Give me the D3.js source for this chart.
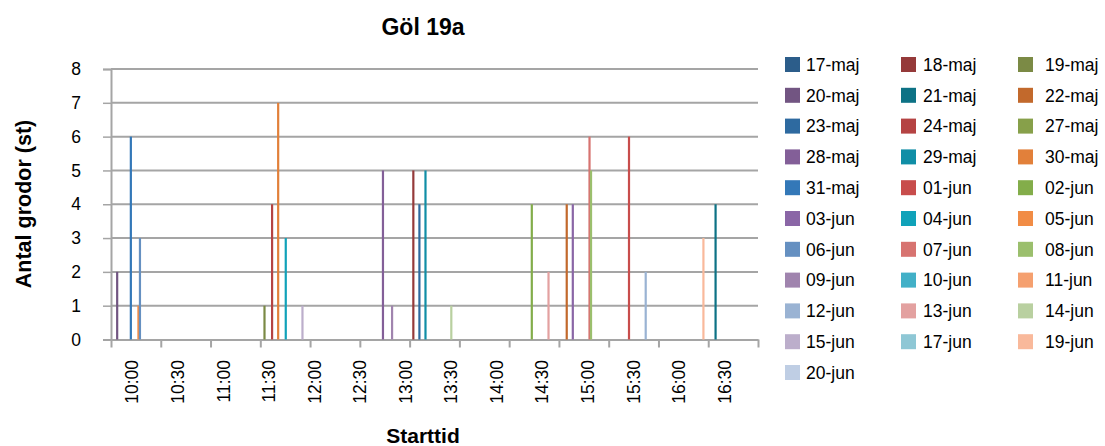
<!DOCTYPE html>
<html>
<head>
<meta charset="utf-8">
<script src="https://cdn.jsdelivr.net/npm/d3@7"></script>
<style>
  body { margin: 0; background: #fff; }
  svg { display: block; font-family: Arial, 'Liberation Sans', sans-serif; }
</style>
</head>
<body>
<div id="chart"></div>
<script>
// Series (one per survey date) and their colours
const dates = [
  '17-maj', '18-maj', '19-maj', '20-maj', '21-maj', '22-maj',
  '23-maj', '24-maj', '27-maj', '28-maj', '29-maj', '30-maj',
  '31-maj', '01-jun', '02-jun', '03-jun', '04-jun', '05-jun',
  '06-jun', '07-jun', '08-jun', '09-jun', '10-jun', '11-jun',
  '12-jun', '13-jun', '14-jun', '15-jun', '17-jun', '19-jun',
  '20-jun',
];
const colors = [
  '#2c5d8a', '#953a3a', '#7b8a45', '#725582', '#0d7285', '#c2692c',
  '#2e6aa0', '#b54343', '#87a04a', '#835f98', '#108ea6', '#e2803a',
  '#3378b8', '#c84d4c', '#83ad4a', '#8a66a6', '#10a2b9', '#f18c45',
  '#6590c1', '#d77370', '#9bbf6d', '#a084ae', '#42b0c7', '#f5a06f',
  '#9ab3d3', '#e3a1a0', '#b9d0a0', '#bcaecb', '#8ec7d5', '#f9b99b',
  '#bfcee4',
];

// Observations: date, start time, number of frogs
const barDates = [
  '20-maj', '31-maj', '05-jun', '06-jun', '19-maj', '24-maj', '30-maj',
  '04-jun', '15-jun', '28-maj', '09-jun', '18-maj', '23-maj', '29-maj',
  '14-jun', '02-jun', '13-jun', '22-maj', '03-jun', '07-jun', '08-jun',
  '01-jun', '12-jun', '19-jun', '21-maj',
];
const barTimes = [
  '09:50', '09:59', '10:04', '10:05', '11:27', '11:32', '11:36',
  '11:41', '11:52', '12:45', '12:51', '13:05', '13:09', '13:13',
  '13:30', '14:23', '14:34', '14:46', '14:50', '15:01', '15:02',
  '15:27', '15:38', '16:16', '16:24',
];
const barValues = [
  2, 6, 1, 3, 1, 4, 7,
  3, 1, 5, 1, 5, 4, 5,
  1, 4, 2, 4, 4, 6, 5,
  6, 2, 3, 4,
];

const xLabels = [
  '10:00', '10:30', '11:00', '11:30', '12:00', '12:30', '13:00',
  '13:30', '14:00', '14:30', '15:00', '15:30', '16:00', '16:30',
];

const width = 1105;
const height = 446;
const plot = { left: 111, right: 758, top: 69, bottom: 339.5 };
const gridColor = '#a5a5a5';

const toMinutes = s => {
  const [h, m] = s.split(':').map(Number);
  return h * 60 + m;
};

const svg = d3.select('#chart').append('svg')
  .attr('width', width)
  .attr('height', height);

svg.append('rect')
  .attr('width', width)
  .attr('height', height)
  .attr('fill', '#fff');

const xDomain = [586, 1012];
const x = d3.scaleLinear()
  .domain(xDomain)
  .range([plot.left, plot.right]);

const y = d3.scaleLinear()
  .domain([0, 8])
  .range([plot.bottom, plot.top]);

const color = d3.scaleOrdinal()
  .domain(dates)
  .range(colors);

// Gridlines
svg.append('g')
  .selectAll('line')
  .data(d3.range(1, 9))
  .join('line')
  .attr('x1', plot.left)
  .attr('x2', plot.right)
  .attr('y1', d => y(d))
  .attr('y2', d => y(d))
  .attr('stroke', gridColor)
  .attr('stroke-width', 2);

// Y axis
const yAxis = svg.append('g')
  .attr('transform', `translate(${plot.left}, 0)`)
  .call(d3.axisLeft(y).ticks(8).tickSize(8).tickPadding(22));
yAxis.select('.domain').attr('stroke', gridColor).attr('stroke-width', 2);
yAxis.selectAll('.tick line').attr('stroke', gridColor).attr('stroke-width', 1.5);
yAxis.selectAll('.tick text')
  .attr('font-size', 17.5)
  .attr('fill', '#000')
  .attr('font-family', 'Arial, Liberation Sans, sans-serif');

// X axis: Excel-style tick marks spaced independently from labels
const tickMarks = d3.range(14).map(i => xDomain[0] + i * (xDomain[1] - xDomain[0]) / 13);
const xAxis = svg.append('g')
  .attr('transform', `translate(0, ${plot.bottom})`)
  .call(d3.axisBottom(x).tickValues(tickMarks).tickFormat('').tickSize(8).tickSizeOuter(0));
xAxis.select('.domain').attr('stroke', gridColor).attr('stroke-width', 2);
xAxis.selectAll('.tick line').attr('stroke', gridColor).attr('stroke-width', 2);

svg.append('g')
  .selectAll('text')
  .data(xLabels)
  .join('text')
  .attr('transform', d => `translate(${x(toMinutes(d))}, 360) rotate(-90)`)
  .attr('text-anchor', 'end')
  .attr('dy', '0.35em')
  .attr('font-size', 17.5)
  .text(d => d);

// Bars
const bars = barDates.map((d, i) => ({ date: d, t: toMinutes(barTimes[i]), v: barValues[i] }));
svg.append('g')
  .selectAll('rect')
  .data(bars)
  .join('rect')
  .attr('x', d => x(d.t) - 1)
  .attr('width', 2.2)
  .attr('y', d => y(d.v))
  .attr('height', d => y(0) - y(d.v))
  .attr('fill', d => color(d.date));

// Titles
svg.append('text')
  .attr('x', 423)
  .attr('y', 35)
  .attr('text-anchor', 'middle')
  .attr('font-size', 23)
  .attr('font-weight', 'bold')
  .text('Göl 19a');

svg.append('text')
  .attr('x', 423)
  .attr('y', 443)
  .attr('text-anchor', 'middle')
  .attr('font-size', 21)
  .attr('font-weight', 'bold')
  .text('Starttid');

svg.append('text')
  .attr('transform', 'translate(31, 204) rotate(-90)')
  .attr('text-anchor', 'middle')
  .attr('font-size', 21.5)
  .attr('font-weight', 'bold')
  .text('Antal grodor (st)');

// Legend, three columns filled row by row
const colX = [785, 901, 1018];
const textOffset = [21, 22, 27];
const legend = svg.append('g')
  .selectAll('g')
  .data(dates)
  .join('g')
  .attr('transform', (d, i) => `translate(${colX[i % 3]}, ${64.5 + Math.floor(i / 3) * 30.8})`);

legend.append('rect')
  .attr('x', 0)
  .attr('y', -7.5)
  .attr('width', 15)
  .attr('height', 15)
  .attr('fill', d => color(d));

legend.append('text')
  .attr('x', (d, i) => textOffset[i % 3])
  .attr('dy', '0.36em')
  .attr('font-size', 17.5)
  .text(d => d);
</script>
</body>
</html>
